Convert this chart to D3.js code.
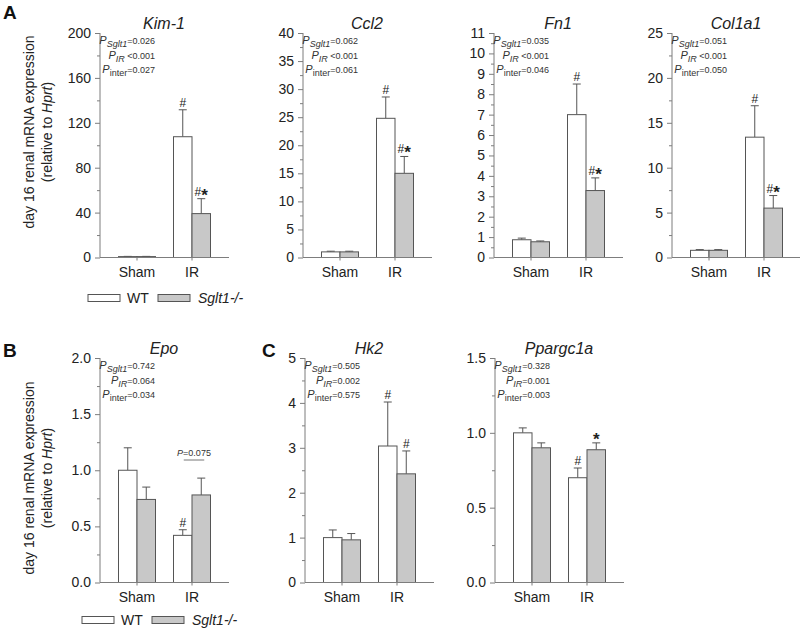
<!DOCTYPE html>
<html><head><meta charset="utf-8">
<script src="https://cdn.jsdelivr.net/npm/d3@7"></script>
<style>body{margin:0;background:#fff}svg{display:block;font-family:Arial,"Liberation Sans",sans-serif}</style>
</head><body>
<svg id="c" width="800" height="631"></svg>
<script>
// ---- data ----
const genes = ["Kim-1","Ccl2","Fn1","Col1a1","Epo","Hk2","Ppargc1a"];
const groups = ["Sham","IR"];
const wtMean = [[0.8,107.6],[1.0,24.8],[0.87,7.0],[0.8,13.4],[1.0,0.42],[1.0,3.04],[1.0,0.70]];
const wtSem  = [[0.2,24.0],[0.12,3.8],[0.08,1.5],[0.08,3.5],[0.2,0.05],[0.17,0.98],[0.033,0.065]];
const koMean = [[0.8,39.1],[1.0,15.0],[0.77,3.28],[0.8,5.5],[0.74,0.78],[0.95,2.42],[0.90,0.887]];
const koSem  = [[0.2,13.3],[0.12,3.0],[0.04,0.62],[0.08,1.4],[0.11,0.15],[0.14,0.51],[0.033,0.046]];
const yMax   = [200,40,11,25,2.0,5,1.5];
const yStep  = [40,5,1,5,0.5,1,0.5];
const yFmt   = ["d","d","d","d",".1f","d",".1f"];
const wtSign = ["#","#","#","#","#","#","#"];
const koSign = ["#*","#*","#*","#*","","#","*"];
const pSglt1 = ["=0.026","=0.062","=0.035","=0.051","=0.742","=0.505","=0.328"];
const pIR    = [" <0.001"," <0.001"," <0.001"," <0.001","=0.064","=0.002","=0.001"];
const pInter = ["=0.027","=0.061","=0.046","=0.050","=0.034","=0.575","=0.003"];
const legendLabels = ["WT","Sglt1-/-"];

// ---- layout ----
const axX = [100,303,494,672,100,305,495];
const axTop = [33,33,33,33,358,358,358];
const axBot = [257.5,257.5,257.5,257.5,582.5,582.5,582.5];
const axLen = 129, barW = 18.5;
const txt = "#222", axCol = "#7d7d7d", barStroke = "#555", koFill = "#c8c8c8";

const svg = d3.select("#c");
const x = d3.scalePoint().domain(groups).range([37, 92]);

genes.forEach((g,i)=>{
  const G = svg.append("g").attr("transform",`translate(${axX[i]},0)`);
  const y = d3.scaleLinear().domain([0,yMax[i]]).range([axBot[i],axTop[i]]);
  const major = d3.range(0, yMax[i]+yStep[i]/2, yStep[i]);
  const minor = d3.range(yStep[i]/2, yMax[i], yStep[i]);
  // bars
  groups.forEach((grp,j)=>{
    const cx = x(grp);
    [[wtMean[i][j],wtSem[i][j],"#fff",cx-barW,wtSign[i]],[koMean[i][j],koSem[i][j],koFill,cx,koSign[i]]].forEach(([m,s,fill,bx,sign])=>{
      const top = y(m+s);
      G.append("line").attr("x1",bx+barW/2).attr("x2",bx+barW/2).attr("y1",y(m)).attr("y2",top).attr("stroke",barStroke).attr("stroke-width",1);
      G.append("line").attr("x1",bx+barW/2-4).attr("x2",bx+barW/2+4).attr("y1",top).attr("y2",top).attr("stroke",barStroke).attr("stroke-width",1);
      G.append("rect").attr("x",bx).attr("y",y(m)).attr("width",barW).attr("height",y(0)-y(m)).attr("fill",fill).attr("stroke",barStroke).attr("stroke-width",1);
      if (j===1 && sign){
        const t = G.append("text").attr("x",bx+barW/2).attr("y",top-3).attr("text-anchor","middle").attr("fill",txt);
        for (const ch of sign){
          if (ch==="*") t.append("tspan").text("*").attr("font-size",17).attr("font-weight","bold").attr("dy",5);
          else t.append("tspan").text(ch).attr("font-size",12);
        }
      }
    });
  });
  // y axis
  const ya = d3.axisLeft(y).tickValues(major).tickSize(5).tickPadding(4).tickFormat(d3.format(yFmt[i]));
  const yg = G.append("g").call(ya);
  yg.select(".domain").attr("stroke",axCol).attr("d",`M0,${axTop[i]}V${axBot[i]}`);
  yg.selectAll(".tick line").attr("stroke",axCol);
  yg.selectAll(".tick text").attr("fill",txt).attr("font-size",14).attr("font-family","Arial, 'Liberation Sans', sans-serif");
  const ym = d3.axisLeft(y).tickValues(minor).tickSize(3).tickFormat("");
  const ymg = G.append("g").call(ym);
  ymg.select(".domain").remove();
  ymg.selectAll(".tick line").attr("stroke",axCol);
  // x axis
  G.append("line").attr("x1",0).attr("x2",axLen).attr("y1",axBot[i]).attr("y2",axBot[i]).attr("stroke",axCol);
  groups.forEach(grp=>{
    G.append("line").attr("x1",x(grp)).attr("x2",x(grp)).attr("y1",axBot[i]).attr("y2",axBot[i]+3).attr("stroke",axCol);
    G.append("text").attr("x",x(grp)).attr("y",axBot[i]+19).attr("text-anchor","middle").attr("font-size",14).attr("fill",txt).text(grp);
  });
  // title
  G.append("text").attr("x",64).attr("y",axTop[i]-4).attr("text-anchor","middle").attr("font-size",16).attr("font-style","italic").attr("fill",txt).text(g);
  // P values
  const pl = [["Sglt1",true,pSglt1[i]],["IR",true,pIR[i]],["inter",false,pInter[i]]];
  pl.forEach(([sub,it,val],k)=>{
    const t = G.append("text").attr("x",55).attr("y",axTop[i]+11+k*14.5).attr("text-anchor","end").attr("fill","#333");
    t.append("tspan").text("P").attr("font-size",11).attr("font-style","italic");
    t.append("tspan").text(sub).attr("font-size",9).attr("font-style",it?"italic":"normal").attr("dy",3);
    t.append("tspan").text(val).attr("font-size",9).attr("dy",-3);
  });
  if (g==="Epo"){
    const x1 = x("IR")-barW/2+3, x2 = x("IR")+barW/2+1;
    G.append("line").attr("x1",x1-2).attr("x2",x2+2).attr("y1",460).attr("y2",460).attr("stroke","#777");
    const t = G.append("text").attr("x",(x1+x2)/2).attr("y",456).attr("text-anchor","middle").attr("fill","#333").attr("font-size",9);
    t.append("tspan").text("P").attr("font-style","italic");
    t.append("tspan").text("=0.075");
  }
});

// y-axis labels
[132,478].forEach(cy=>{
  svg.append("text").attr("transform",`translate(34,${cy}) rotate(-90)`).attr("text-anchor","middle").attr("font-size",14).attr("fill",txt).text("day 16 renal mRNA expression");
  const t2 = svg.append("text").attr("transform",`translate(52,${cy}) rotate(-90)`).attr("text-anchor","middle").attr("font-size",14).attr("fill",txt);
  t2.append("tspan").text("(relative to ");
  t2.append("tspan").text("Hprt").attr("font-style","italic");
  t2.append("tspan").text(")");
});

// legends
[[88,298],[82,620]].forEach(([lx,ly])=>{
  const L = svg.append("g").attr("transform",`translate(${lx},${ly})`);
  L.append("rect").attr("x",0).attr("y",-3.5).attr("width",32).attr("height",7).attr("fill","#fff").attr("stroke",barStroke);
  L.append("text").attr("x",39).attr("y",5).attr("font-size",14).attr("fill",txt).text(legendLabels[0]);
  L.append("rect").attr("x",70).attr("y",-3.5).attr("width",32).attr("height",7).attr("fill",koFill).attr("stroke",barStroke);
  L.append("text").attr("x",110).attr("y",5).attr("font-size",14).attr("font-style","italic").attr("fill",txt).text(legendLabels[1]);
});

// panel letters
[["A",3,19],["B",3,357],["C",262,357]].forEach(([s,px,py])=>{
  svg.append("text").attr("x",px).attr("y",py).attr("font-size",19).attr("font-weight","bold").attr("fill","#111").text(s);
});
</script>
</body></html>
